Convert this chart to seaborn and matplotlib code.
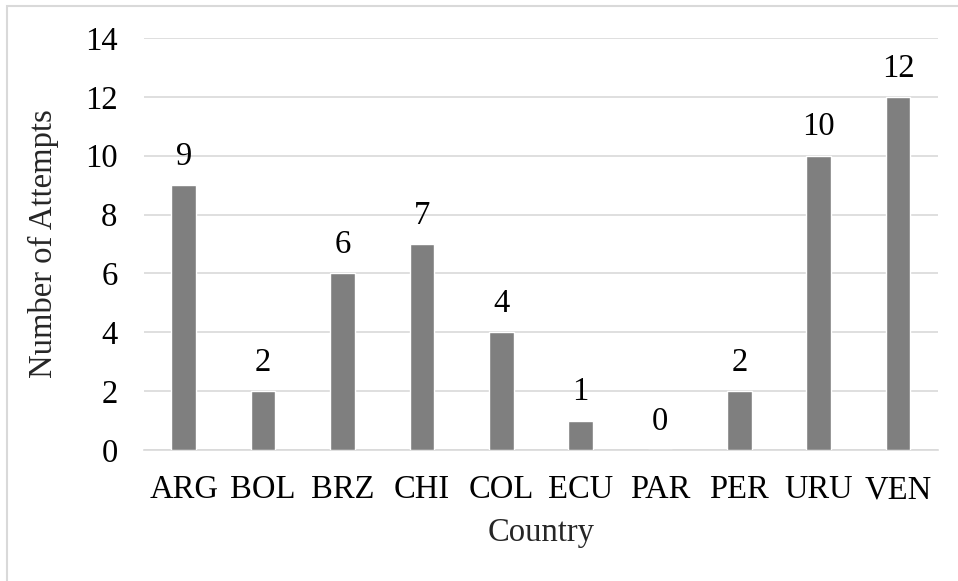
import matplotlib
matplotlib.use("Agg")
import matplotlib.pyplot as plt
import matplotlib.patches as patches
import seaborn as sns
import pandas

countries = ['ARG', 'BOL', 'BRZ', 'CHI', 'COL', 'ECU', 'PAR', 'PER', 'URU', 'VEN']
attempts = [9, 2, 6, 7, 4, 1, 0, 2, 10, 12]
y_ticks = [0, 2, 4, 6, 8, 10, 12, 14]

data = pandas.DataFrame({'Country': countries, 'Attempts': attempts})

sns.set_style('white')
plt.rcParams['font.family'] = ['Liberation Serif', 'DejaVu Serif']
fs = 23.5

fig = plt.figure(figsize=(9.58, 5.81), dpi=100)
ax = fig.add_axes([0.1503, 0.2255, 0.8287, 0.7091])

sns.barplot(data=data, x='Country', y='Attempts', color='#7f7f7f', saturation=1,
            width=0.31, ax=ax, zorder=3)

# value labels above bars
for i, v in enumerate(attempts):
    ax.text(i, v + 0.45, str(v), ha='center', va='bottom', fontsize=fs, color='black')

ax.set_ylim(0, 14)
ax.set_xlim(-0.5, len(countries) - 0.5)
ax.set_yticks(y_ticks)
ax.yaxis.grid(True, color='#d9d9d9', linewidth=1.2, zorder=0)
ax.set_axisbelow(True)
for s in ['top', 'right', 'left']:
    ax.spines[s].set_visible(False)
ax.spines['bottom'].set_color('#d9d9d9')
ax.spines['bottom'].set_linewidth(1.2)
ax.tick_params(axis='both', length=0, labelsize=fs, colors='black')
ax.tick_params(axis='y', pad=19)
ax.tick_params(axis='x', pad=18)
ax.set_xlabel('Country', fontsize=fs, labelpad=9)
ax.set_ylabel('Number of Attempts', fontsize=fs, labelpad=19)

# chart border
fig.patches.append(patches.Rectangle((7 / 958, -0.1), 1.1, 1 - 6 / 581 + 0.1,
                                     transform=fig.transFigure, fill=False,
                                     edgecolor='#d9d9d9', linewidth=1.5))

fig.savefig('out.png', dpi=100)
